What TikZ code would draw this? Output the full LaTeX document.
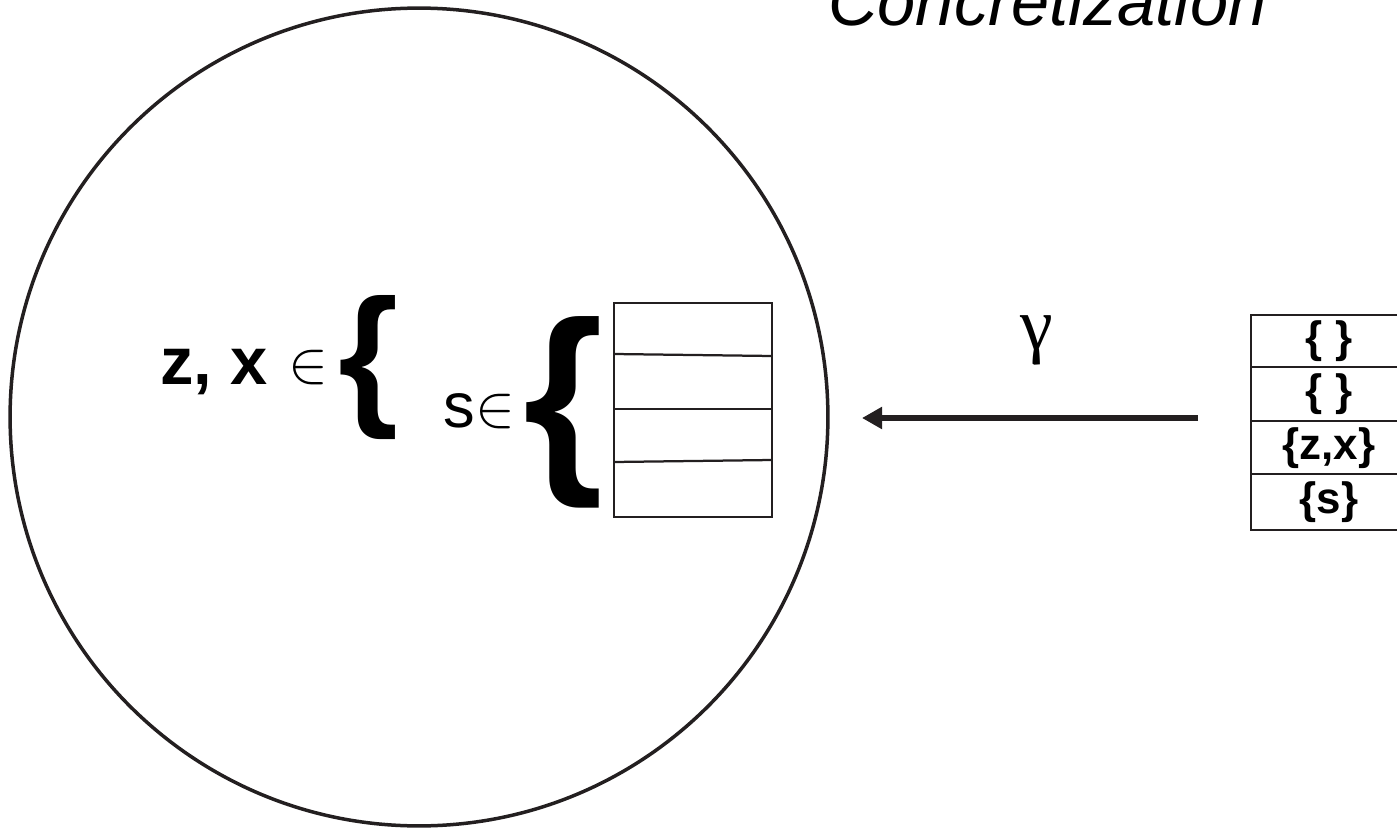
\documentclass[tikz,border=0pt]{standalone}
\usepackage{amsmath,amssymb}
\usepackage{fontspec}
\setmainfont{Liberation Sans}
\newfontfamily\greekserif{Liberation Serif}
\usepackage{tikz}
\usetikzlibrary{arrows.meta,positioning}

\definecolor{inkline}{HTML}{231F20}

\tikzset{
  frame/.style={draw=inkline, line width=0.07cm},
  cellline/.style={draw=inkline, line width=0.045cm},
  arrowline/.style={draw=inkline, line width=0.12cm, -{Triangle[length=0.4cm, width=0.42cm]}},
  celltext/.style={inner sep=0pt, font=\fontsize{25}{25}\selectfont\bfseries},
  elemtext/.style={inner sep=0pt, scale=3.4},
}

\begin{document}
\begin{tikzpicture}[x=0.02cm, y=-0.02cm]
    \useasboundingbox (0,0) rectangle (1397,828);

    % title, cut by the top edge
    \node[anchor=base west, inner sep=0pt, font=\fontsize{39}{39}\selectfont\itshape] (title) at (828,26) {Concretization};

    % the concrete universe
    \node[circle, frame, minimum size=16.36cm, inner sep=0pt] (universe) at (419,417) {};

    \node[anchor=base west, inner sep=0pt, font=\fontsize{38}{38}\selectfont\bfseries] (zx) at (160,384) {z, x};
    \node[elemtext] (zxin) at (308,368) {$\in$};
    \node[inner sep=0pt, font=\fontsize{88}{88}\selectfont\bfseries] (zxbrace) at (369,368) {\{};

    \node[anchor=base west, inner sep=0pt, font=\fontsize{36}{36}\selectfont] (s) at (443,427) {s};
    \node[elemtext] (sin) at (495,412) {$\in$};
    \node[inner sep=0pt, font=\fontsize{117}{117}\selectfont\bfseries] (sbrace) at (563,412) {\{};

    % concrete stack
    \draw[cellline] (614,303) rectangle (772,517);
    \draw[cellline] (614,354) -- (772,356);
    \draw[cellline] (614,409) -- (772,409);
    \draw[cellline] (614,462) -- (772,460);

    % concretization arrow
    \coordinate (gammatail) at (1198,418);
    \coordinate (gammahead) at (862,418);
    \draw[arrowline] (gammatail) -- (gammahead);
    \node[inner sep=0pt, font=\fontsize{42}{42}\greekserif] (gamma) at (1037,340) {γ};

    % abstract stack
    \draw[cellline] (1251,315) rectangle (1420,530);
    \draw[cellline] (1251,367) -- (1420,367);
    \draw[cellline] (1251,421) -- (1420,421);
    \draw[cellline] (1251,474) -- (1420,474);
    \node[celltext] (cell1) at (1329,341) {\{ \}};
    \node[celltext] (cell2) at (1329,394) {\{ \}};
    \node[celltext] (cell3) at (1329,448) {\{z,x\}};
    \node[celltext] (cell4) at (1329,502) {\{s\}};
\end{tikzpicture}
\end{document}
